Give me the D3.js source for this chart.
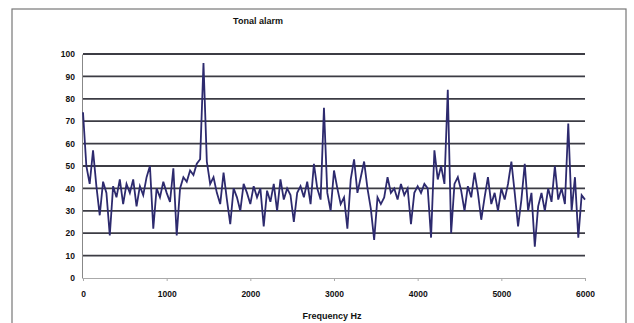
<!DOCTYPE html>
<html>
<head>
<meta charset="utf-8">
<script src="https://cdn.jsdelivr.net/npm/d3@7"></script>
<style>
  body { margin: 0; background: #fff; }
  text { font-family: "Liberation Sans", Arial, sans-serif; font-weight: bold; fill: #111; }
</style>
</head>
<body>
<div id="vis"></div>
<script>
// spectrum sampled every 40 Hz, 0..6000
var step = 40;
var levels = [
    74, 50, 42, 57, 41, 28, 43, 38, 19, 41,
    36, 44, 33, 42, 38, 44, 32, 41, 37, 45,
    50, 22, 40, 36, 43, 38, 34, 49, 19, 40,
    45, 43, 48, 46, 51, 53, 96, 52, 42, 45,
    38, 33, 47, 35, 24, 40, 36, 30, 42, 38,
    33, 41, 36, 40, 23, 39, 34, 42, 30, 44,
    35, 40, 37, 25, 38, 41, 36, 43, 33, 51,
    40, 35, 76, 38, 30, 48, 40, 33, 36, 22,
    44, 53, 38, 45, 52, 40, 31, 17, 36, 33,
    36, 45, 38, 40, 35, 42, 37, 40, 24, 38,
    41, 38, 42, 40, 18, 57, 44, 50, 42, 84,
    20, 42, 45, 39, 30, 41, 36, 47, 38, 26,
    36, 45, 33, 38, 30, 40, 35, 42, 52, 38,
    23, 35, 51, 30, 38, 14, 32, 38, 30, 40,
    34, 50, 35, 40, 33, 69, 30, 45, 18, 37, 35
];
var yTicks = [0, 10, 20, 30, 40, 50, 60, 70, 80, 90, 100];
var xTicks = [0, 1000, 2000, 3000, 4000, 5000, 6000];

var width = 634, height = 323;

var svg = d3.select("#vis").append("svg")
    .attr("width", width)
    .attr("height", height);

// outer frame
svg.append("rect")
    .attr("x", 12).attr("y", 9)
    .attr("width", 614).attr("height", 330)
    .attr("fill", "none")
    .attr("stroke", "#777")
    .attr("stroke-width", 1.2);

var x = d3.scaleLinear().domain([0, 6000]).range([83, 585]);
var y = d3.scaleLinear().domain([0, 100]).range([278, 54]);

// horizontal gridlines
svg.selectAll(".grid")
    .data(yTicks.slice(1))
    .enter().append("line")
    .attr("class", "grid")
    .attr("x1", x(0)).attr("x2", x(6000))
    .attr("y1", function (d) { return y(d); })
    .attr("y2", function (d) { return y(d); })
    .attr("stroke", "#3c3c44")
    .attr("stroke-width", 1.8);

// y axis
var yAxis = svg.append("g")
    .attr("transform", "translate(" + (x(0) - 1) + ",0)")
    .call(d3.axisLeft(y).tickValues(yTicks).tickSize(0).tickPadding(7));
yAxis.select(".domain").attr("stroke", "#888");
yAxis.selectAll("text").style("font-size", "8.5px");

// x axis
var xAxis = svg.append("g")
    .attr("transform", "translate(0," + y(0) + ")")
    .call(d3.axisBottom(x).tickValues(xTicks).tickFormat(d3.format("d")).tickSize(3).tickPadding(10));
xAxis.select(".domain").attr("stroke", "#aaa");
xAxis.selectAll(".tick line").attr("stroke", "#aaa");
xAxis.selectAll("text").style("font-size", "8.5px");

var line = d3.line()
    .x(function (d, i) { return x(i * step); })
    .y(function (d) { return y(d); });

svg.append("path")
    .datum(levels)
    .attr("d", line)
    .attr("fill", "none")
    .attr("stroke", "#2d2a6e")
    .attr("stroke-width", 1.8)
    .attr("stroke-linejoin", "miter");

svg.append("text")
    .attr("x", 258).attr("y", 24)
    .attr("text-anchor", "middle")
    .style("font-size", "9px")
    .text("Tonal alarm");

svg.append("text")
    .attr("x", 332).attr("y", 319)
    .attr("text-anchor", "middle")
    .style("font-size", "9px")
    .text("Frequency Hz");
</script>
</body>
</html>
